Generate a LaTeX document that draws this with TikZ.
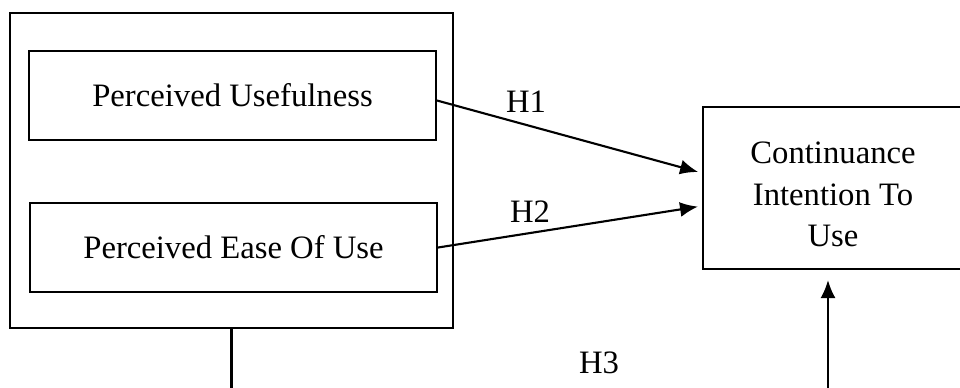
\documentclass[tikz,border=0pt]{standalone}
\usepackage{fontspec}
\setmainfont{Liberation Serif}
\usetikzlibrary{arrows.meta,positioning,calc}
\tikzstyle{block} = [draw, line width=1.2pt, rectangle, align=center, font=\fontsize{18.6}{23.5}\selectfont]
\tikzstyle{line} = [draw, line width=1.2pt, -{Latex[length=0.36cm,width=0.3cm]}]
\tikzstyle{label} = [font=\fontsize{18.6}{23.5}\selectfont]

\begin{document}
\begin{tikzpicture}[x=0.02cm,y=-0.02cm]
    \useasboundingbox (0,0) rectangle (960,387);
    % Draw the outer group and the two factors
    \node [block, minimum width=8.86cm, minimum height=6.3cm] (group) at (231.5,170.5) {};
    \node [block, minimum width=8.14cm, minimum height=1.78cm] (useful) at (232.5,95.5) {Perceived Usefulness};
    \node [block, minimum width=8.14cm, minimum height=1.78cm] (ease) at (233.5,247.5) {Perceived Ease Of Use};
    % Draw the outcome
    \node [block, minimum width=5.2cm, minimum height=3.24cm] (intent) at (833,188) {\rule{0pt}{1.05em}Continuance\\Intention To\\Use};
    % Draw the hypotheses
    \draw [line, shorten >=0.08cm] ([yshift=-0.1cm]useful.east) -- ([yshift=0.3cm]intent.west);
    \draw [line, shorten >=0.08cm] (ease.east) -- ([yshift=-0.36cm]intent.west);
    \coordinate (bend) at (530,420);
    \draw [line, shorten >=0.2cm] (group.south) |- (bend) -| ([xshift=-0.1cm]intent.south);
    \node [label] (h1) at (526,102) {H1};
    \node [label] (h2) at (530,212) {H2};
    \node [label] (h3) at (599,363) {H3};
\end{tikzpicture}
\end{document}
